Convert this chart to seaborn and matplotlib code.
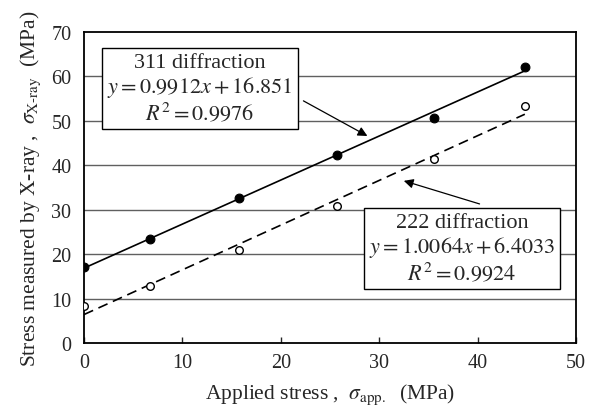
import matplotlib
matplotlib.use("Agg")
import matplotlib.pyplot as plt
import seaborn as sns
import pandas as pd

applied = [0, 6.7, 15.8, 25.7, 35.6, 44.8]
s311 = [17.0, 23.4, 32.6, 42.3, 50.6, 62.2]
s222 = [8.3, 12.9, 21.0, 30.8, 41.4, 53.3]
fit_slopes = [0.9912, 1.0064]
fit_intercepts = [16.851, 6.4033]
fit_r2 = [0.9976, 0.9924]
fit_x = [0, 44.8]

sns.set_style("ticks")
plt.rcParams['font.family'] = ['Liberation Serif', 'DejaVu Serif']
plt.rcParams['mathtext.fontset'] = 'stix'

fig = plt.figure(figsize=(5.95, 4.10), dpi=100)
ax = fig.add_axes([84/595, 1-344/410, (576-84)/595, (344-33)/410])

for yv in range(10, 70, 10):
    ax.axhline(yv, color='#606060', lw=1.0, zorder=0)

df311 = pd.DataFrame({'x': fit_x, 'y': [fit_slopes[0]*v + fit_intercepts[0] for v in fit_x]})
df222 = pd.DataFrame({'x': fit_x, 'y': [fit_slopes[1]*v + fit_intercepts[1] for v in fit_x]})
sns.lineplot(data=df311, x='x', y='y', ax=ax, color='black', lw=1.2)
sns.lineplot(data=df222, x='x', y='y', ax=ax, color='black', lw=1.2)
ax.lines[-1].set_dashes([6, 3.5])

sns.scatterplot(x=applied, y=s311, ax=ax, color='black', s=40, edgecolor='black', linewidth=0.8, zorder=5)
sns.scatterplot(x=applied, y=s222, ax=ax, color='white', s=30, edgecolor='black', linewidth=1.0, zorder=5)

ax.set_xlim(0, 50)
ax.set_ylim(0, 70)
ax.set_xticks(range(0, 51, 10))
ax.set_yticks(range(0, 71, 10))
ax.tick_params(axis='x', direction='in', length=4, labelsize=14.5, pad=7, width=1)
ax.tick_params(axis='y', direction='in', length=0, labelsize=14.5, pad=9)
for sp in ax.spines.values():
    sp.set_visible(True)
    sp.set_color('black')
    sp.set_linewidth(1.3)

ax.set_xlabel(r'Applied stress ,  $\sigma_{\rm app.}$  (MPa)', fontsize=15.5, labelpad=7)
ax.set_ylabel(r'Stress measured by X-ray ,  $\sigma_{\rm X\text{-}ray}$  (MPa)', fontsize=15.5, labelpad=6)

box = dict(boxstyle='square,pad=0.22', fc='white', ec='black', lw=1.0)
ax.text(11.8, 57.3,
        '311 diffraction\n' + r'$y=%.4fx+%.3f$' % (fit_slopes[0], fit_intercepts[0]) + '\n' + r'$R^2=%.4f$' % fit_r2[0],
        ha='center', va='center', fontsize=16, linespacing=1.1, bbox=box, zorder=6)
ax.text(38.4, 21.3,
        '222 diffraction\n' + r'$y=%.4fx+%.4f$' % (fit_slopes[1], fit_intercepts[1]) + '\n' + r'$R^2=%.4f$' % fit_r2[1],
        ha='center', va='center', fontsize=16, linespacing=1.1, bbox=box, zorder=6)

ap = dict(arrowstyle='-|>', color='black', lw=0.9, mutation_scale=14, shrinkA=0, shrinkB=0)
ax.annotate('', xy=(28.8, 46.6), xytext=(22.3, 54.5), arrowprops=ap, zorder=7)
ax.annotate('', xy=(32.5, 36.5), xytext=(40.2, 31.3), arrowprops=ap, zorder=7)

fig.savefig('out.png', dpi=100)
